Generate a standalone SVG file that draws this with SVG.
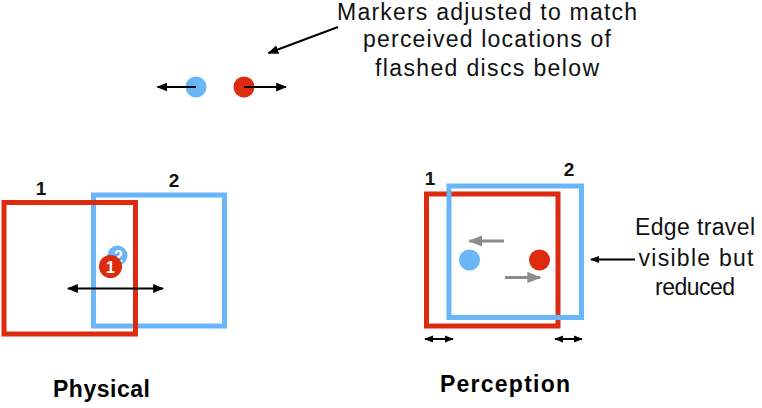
<svg xmlns="http://www.w3.org/2000/svg" width="762" height="408" viewBox="0 0 762 408">
  <style>
    .red { fill: none; stroke: #dc2b0f; stroke-width: 5; }
    .blue { fill: none; stroke: #68b6f7; stroke-width: 5; }
    .rdisc { fill: #dc2b0f; }
    .bdisc { fill: #68b6f7; }
    .note { font-family: "Liberation Sans", Arial, sans-serif; font-size: 23px; fill: #111; text-anchor: middle; }
    .num { font-family: "Liberation Sans", Arial, sans-serif; font-size: 19px; font-weight: bold; fill: #111; text-anchor: middle; }
    .title { font-family: "Liberation Sans", Arial, sans-serif; font-size: 23px; font-weight: bold; fill: #000; text-anchor: middle; }
    .dnum { font-family: "Liberation Sans", Arial, sans-serif; font-size: 16px; font-weight: bold; fill: #fff; text-anchor: middle; }
    .blk { stroke: #000; stroke-width: 2; fill: none; }
    .gry { stroke: #8c8c8c; stroke-width: 3; fill: none; }
  </style>
  <defs>
    <marker id="ah" viewBox="0 0 10 8" refX="9" refY="4" markerUnits="userSpaceOnUse" markerWidth="11" markerHeight="9" orient="auto-start-reverse">
      <path d="M0,0 L10,4 L0,8 z" fill="#000"/>
    </marker>
    <marker id="ahs" viewBox="0 0 10 8" refX="9" refY="4" markerUnits="userSpaceOnUse" markerWidth="9" markerHeight="8" orient="auto-start-reverse">
      <path d="M0,0 L10,4 L0,8 z" fill="#000"/>
    </marker>
    <marker id="ahg" viewBox="0 0 10 8" refX="9" refY="4" markerUnits="userSpaceOnUse" markerWidth="14" markerHeight="12" orient="auto">
      <path d="M0,0 L10,4 L0,8 z" fill="#8c8c8c"/>
    </marker>
  </defs>

  <!-- Top note -->
  <g id="note-markers">
    <text class="note" x="487" y="19.5" textLength="300">Markers adjusted to match</text>
    <text class="note" x="487" y="47" textLength="248">perceived locations of</text>
    <text class="note" x="487" y="75.5" textLength="224">flashed discs below</text>
  </g>

  <!-- Top adjustable markers -->
  <g id="marker-blue">
    <circle class="bdisc" cx="196" cy="87" r="10.5"/>
  </g>
  <g id="marker-red">
    <circle class="rdisc" cx="244" cy="87" r="10.5"/>
  </g>

  <!-- Physical -->
  <g id="physical-frame-2">
    <rect class="blue" x="93.5" y="195" width="131" height="131"/>
    <text class="num" x="174" y="187">2</text>
  </g>
  <g id="physical-frame-1">
    <rect class="red" x="4" y="202.5" width="131.5" height="131.5"/>
    <text class="num" x="41" y="195">1</text>
  </g>
  <g id="physical-disc-2">
    <circle class="bdisc" cx="117.5" cy="255.5" r="10"/>
    <text class="dnum" x="118.5" y="261.5">2</text>
  </g>
  <g id="physical-disc-1">
    <circle class="rdisc" cx="110.5" cy="266.5" r="11.5"/>
    <text class="dnum" x="110.5" y="272.5">1</text>
  </g>
  <g id="physical-label">
    <text class="title" x="101.5" y="397" textLength="97">Physical</text>
  </g>

  <!-- Perception -->
  <g id="perception-frame-1">
    <rect class="red" x="426.5" y="194" width="131.5" height="132"/>
    <text class="num" x="430" y="184.5">1</text>
  </g>
  <g id="perception-frame-2">
    <rect class="blue" x="449" y="186" width="132.5" height="131.5"/>
    <text class="num" x="569" y="175.5">2</text>
  </g>
  <g id="perception-disc-2">
    <circle class="bdisc" cx="469.5" cy="260" r="10.5"/>
  </g>
  <g id="perception-disc-1">
    <circle class="rdisc" cx="539.5" cy="260" r="10.5"/>
  </g>
  <g id="perception-label">
    <text class="title" x="505" y="391.5" textLength="130">Perception</text>
  </g>

  <!-- Right note -->
  <g id="note-edge">
    <text class="note" x="695" y="235" textLength="120">Edge travel</text>
    <text class="note" x="696" y="265.5" textLength="115">visible but</text>
    <text class="note" x="695" y="295" textLength="80">reduced</text>
  </g>

  <!-- Connectors -->
  <g id="connectors">
    <line class="blk" x1="338" y1="27" x2="268.5" y2="53" marker-end="url(#ah)"/>
    <line class="blk" x1="196" y1="87" x2="157.5" y2="87" marker-end="url(#ah)"/>
    <line class="blk" x1="244" y1="87" x2="286" y2="87" marker-end="url(#ah)"/>
    <line class="blk" x1="68" y1="288.5" x2="163" y2="288.5" marker-start="url(#ah)" marker-end="url(#ah)"/>
    <line class="gry" x1="504" y1="241" x2="469.5" y2="241" marker-end="url(#ahg)"/>
    <line class="gry" x1="505" y1="277.5" x2="540" y2="277.5" marker-end="url(#ahg)"/>
    <line class="blk" x1="425" y1="339" x2="453" y2="339" marker-start="url(#ahs)" marker-end="url(#ahs)"/>
    <line class="blk" x1="555" y1="339" x2="582" y2="339" marker-start="url(#ahs)" marker-end="url(#ahs)"/>
    <line class="blk" x1="635" y1="259.5" x2="591" y2="259.5" marker-end="url(#ahs)"/>
  </g>
</svg>
